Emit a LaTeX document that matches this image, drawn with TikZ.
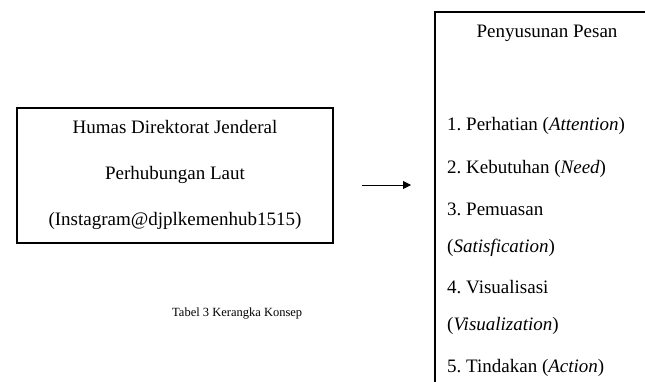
\documentclass[tikz,border=0pt]{standalone}
\usepackage{fontspec}
\setmainfont{Liberation Serif}
\frenchspacing
\usetikzlibrary{arrows.meta}
\begin{document}
\begin{tikzpicture}[x=1pt,y=-1pt,
  txt/.style={inner sep=0pt,font=\fontsize{19}{22}\selectfont},
  lbl/.style={txt,anchor=base west},
  ctr/.style={txt,anchor=base},
  frame/.style={line width=1.6pt},
  conn/.style={line width=0.8pt,-{Triangle[length=8pt,width=8pt]}}]
\useasboundingbox (0,0) rectangle (645,381);
% left box
\node[draw,frame,minimum width=316pt,minimum height=135pt,inner sep=0pt] (src) at (175,175.5) {};
\node[ctr] (s1) at (175,133) {Humas Direktorat Jenderal};
\node[ctr] (s2) at (175,179) {Perhubungan Laut};
\node[ctr] (s3) at (175,225) {(Instagram@djplkemenhub1515)};
% right box (clipped)
\draw[frame] (646,12) -- (435,12) -- (435,382);
\node[ctr] (r0) at (547,37) {Penyusunan Pesan};
\node[lbl] (r1) at (447,130) {1. Perhatian (\textit{Attention})};
\node[lbl] (r2) at (447,173) {2. Kebutuhan (\textit{Need})};
\node[lbl] (r3) at (447,215) {3. Pemuasan};
\node[lbl] (r3b) at (447,252) {(\textit{Satisfication})};
\node[lbl] (r4) at (447,293) {4. Visualisasi};
\node[lbl] (r4b) at (447,330) {(\textit{Visualization})};
\node[lbl] (r5) at (447,372) {5. Tindakan (\textit{Action})};
% arrow
\coordinate (a1) at (362,185);
\coordinate (a2) at (411,185);
\draw[conn] (a1) -- (a2);
% caption
\node[inner sep=0pt,anchor=base west,font=\fontsize{12.5}{14}\selectfont] (cap) at (172,316) {Tabel 3 Kerangka Konsep};
\end{tikzpicture}
\end{document}
